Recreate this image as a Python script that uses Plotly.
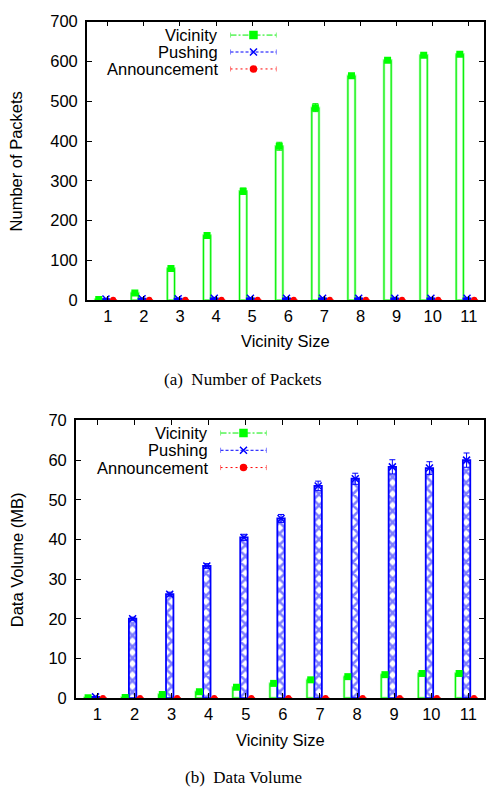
import numpy as np
import plotly.graph_objects as go

# Vicinity sizes on the x axis
vicinity_size = [1, 2, 3, 4, 5, 6, 7, 8, 9, 10, 11]

# (a) Number of packets
pkt_vicinity = [2, 18, 80, 163, 274, 387, 484, 564, 603, 616, 618]
pkt_vicinity_err = [1, 4, 4, 5, 8, 10, 10, 6, 5, 4, 4]
pkt_pushing = [3, 4, 4, 5, 5, 5, 5, 5, 5, 5, 5]
pkt_pushing_err = [1, 1, 1, 1, 1, 1, 1, 1, 1, 1, 1]
pkt_announce = [1, 1, 1, 1, 1, 1, 1, 1, 1, 1, 1]

# (b) Data volume in MB
vol_vicinity = [0.1, 0.15, 0.9, 1.6, 2.7, 3.7, 4.6, 5.4, 5.9, 6.2, 6.2]
vol_vicinity_err = [0.05, 0.05, 0.1, 0.15, 0.2, 0.3, 0.3, 0.3, 0.3, 0.3, 0.3]
vol_pushing = [0.3, 20.0, 26.2, 33.3, 40.5, 45.3, 53.5, 55.3, 58.3, 58.0, 60.0]
vol_pushing_err = [0.1, 0.4, 0.5, 0.6, 0.8, 1.0, 1.2, 1.4, 1.8, 1.6, 1.8]
vol_announce = [0.02, 0.02, 0.02, 0.02, 0.02, 0.02, 0.02, 0.02, 0.02, 0.02, 0.02]

series_names = ["Vicinity", "Pushing", "Announcement"]

GREEN = "#00ee00"
LGREEN = "#99ff99"
BLUE = "#0000ff"
RED = "#ff0000"
W, H = 486, 796

x = np.array(vicinity_size, dtype=float)
OFF_V, OFF_P, OFF_A = -0.25, -0.05, 0.15
BW = 0.2

fig = go.Figure()


def add_panel(xa, ya, vic, vic_err, push, push_err, ann):
    # Vicinity: open boxes with a soft halo
    fig.add_bar(x=x + OFF_V, y=vic, width=BW, xaxis=xa, yaxis=ya,
                marker=dict(color="rgba(0,0,0,0)", line=dict(color=LGREEN, width=2.5)),
                showlegend=False, hoverinfo="skip")
    fig.add_bar(x=x + OFF_V, y=vic, width=BW, xaxis=xa, yaxis=ya,
                marker=dict(color="rgba(0,0,0,0)", line=dict(color=GREEN, width=1)),
                showlegend=False, hoverinfo="skip")
    # Pushing: crosshatched boxes
    fig.add_bar(x=x + OFF_P, y=push, width=BW, xaxis=xa, yaxis=ya,
                marker=dict(color="white", line=dict(color=BLUE, width=1.8),
                            pattern=dict(shape="x", fgcolor=BLUE, bgcolor="white",
                                         size=8, solidity=0.55)),
                showlegend=False, hoverinfo="skip")
    # Announcement: (nearly flat) boxes
    fig.add_bar(x=x + OFF_A, y=ann, width=BW, xaxis=xa, yaxis=ya,
                marker=dict(color="rgba(0,0,0,0)", line=dict(color=RED, width=1)),
                showlegend=False, hoverinfo="skip")
    # Points with error bars
    fig.add_scatter(x=x + OFF_V, y=vic, mode="markers", xaxis=xa, yaxis=ya,
                    marker=dict(symbol="square", size=7, color="#00ff00"),
                    error_y=dict(type="data", array=vic_err, color=GREEN,
                                 thickness=1, width=3),
                    showlegend=False)
    fig.add_scatter(x=x + OFF_P, y=push, mode="markers", xaxis=xa, yaxis=ya,
                    marker=dict(symbol="x-thin", size=7, color=BLUE,
                                line=dict(color=BLUE, width=1.5)),
                    error_y=dict(type="data", array=push_err, color=BLUE,
                                 thickness=1, width=3),
                    showlegend=False)
    fig.add_scatter(x=x + OFF_A, y=ann, mode="markers", xaxis=xa, yaxis=ya,
                    marker=dict(symbol="circle", size=6, color=RED),
                    showlegend=False)


add_panel("x", "y", pkt_vicinity, pkt_vicinity_err, pkt_pushing, pkt_pushing_err, pkt_announce)
add_panel("x2", "y2", vol_vicinity, vol_vicinity_err, vol_pushing, vol_pushing_err, vol_announce)

# Key samples, drawn on small overlay axes (range 0..1)
key_styles = [
    dict(color=GREEN, dash="6px,2px,2px,2px", symbol="square", msize=7, mcolor="#00ff00"),
    dict(color=BLUE, dash="3px,2px", symbol="x-thin", msize=7, mcolor=BLUE),
    dict(color=RED, dash="2px,3px", symbol="circle", msize=6, mcolor=RED),
]
key_rows = [2.5, 1.5, 0.5]
for xa, ya in (("x3", "y3"), ("x4", "y4")):
    for st, ry in zip(key_styles, key_rows):
        fig.add_scatter(x=[0, 1], y=[ry, ry], mode="lines", xaxis=xa, yaxis=ya,
                        line=dict(color=st["color"], dash=st["dash"], width=1),
                        showlegend=False, hoverinfo="skip")
        fig.add_scatter(x=[0, 0, None, 1, 1], y=[ry - 0.15, ry + 0.15, None, ry - 0.15, ry + 0.15],
                        mode="lines", xaxis=xa, yaxis=ya,
                        line=dict(color=st["color"], width=1),
                        showlegend=False, hoverinfo="skip")
        fig.add_scatter(x=[0.5], y=[ry], mode="markers", xaxis=xa, yaxis=ya,
                        marker=dict(symbol=st["symbol"], size=st["msize"], color=st["mcolor"],
                                    line=dict(color=st["mcolor"], width=1.5)),
                        showlegend=False, hoverinfo="skip")

FONT = "Liberation Sans, Arial, sans-serif"
SERIF = "Liberation Serif, Times New Roman, serif"
axis_common = dict(showline=True, linecolor="black", linewidth=1.5, mirror="allticks",
                   ticks="inside", ticklen=5, tickwidth=1, tickcolor="black",
                   showgrid=False, zeroline=False,
                   tickfont=dict(family=FONT, size=16.5, color="black"))


def px_x(a, b):
    return [a / W, b / W]


def px_y(top, bottom):
    return [1 - bottom / H, 1 - top / H]


fig.update_layout(
    width=W, height=H, margin=dict(l=0, r=0, t=0, b=0),
    paper_bgcolor="white", plot_bgcolor="rgba(0,0,0,0)",
    barmode="overlay", showlegend=False,
    xaxis=dict(axis_common, domain=px_x(87, 485), range=[0.42, 11.42],
               tickvals=vicinity_size, ticklabelstandoff=0, anchor="y"),
    yaxis=dict(axis_common, domain=px_y(13, 298), range=[0, 700], dtick=100,
               ticklabelstandoff=4, anchor="x"),
    xaxis2=dict(axis_common, domain=px_x(76, 485), range=[0.42, 11.42],
                tickvals=vicinity_size, ticklabelstandoff=0, anchor="y2"),
    yaxis2=dict(axis_common, domain=px_y(421, 705), range=[0, 70], dtick=10,
                ticklabelstandoff=4, anchor="x2"),
    xaxis3=dict(domain=px_x(231, 277), range=[0, 1], visible=False, anchor="y3"),
    yaxis3=dict(domain=px_y(18, 70), range=[0, 3], visible=False, anchor="x3"),
    xaxis4=dict(domain=px_x(221, 267), range=[0, 1], visible=False, anchor="y4"),
    yaxis4=dict(domain=px_y(425, 478), range=[0, 3], visible=False, anchor="x4"),
)

annotations = []
# Key labels
for top_px, right_px in ((18, 220), (425, 210)):
    row_h = (70 - 18) / 3 if top_px == 18 else (478 - 425) / 3
    for i, name in enumerate(series_names):
        cy = top_px + row_h * (i + 0.5)
        annotations.append(dict(text=name, x=right_px / W, y=1 - cy / H, xref="paper", yref="paper",
                                xanchor="right", yanchor="middle", showarrow=False,
                                font=dict(family=FONT, size=16.5, color="black")))
# Axis titles
annotations += [
    dict(text="Vicinity Size", x=286 / W, y=1 - 340 / H),
    dict(text="Number of Packets", x=17 / W, y=1 - 156 / H, textangle=-90),
    dict(text="Vicinity Size", x=281 / W, y=1 - 748 / H),
    dict(text="Data Volume (MB)", x=17 / W, y=1 - 563 / H, textangle=-90),
]
for a in annotations[-4:]:
    a.update(xref="paper", yref="paper", xanchor="center", yanchor="middle", showarrow=False,
             font=dict(family=FONT, size=16.5, color="black"))
# Captions
annotations += [
    dict(text="(a)  Number of Packets", x=244 / W, y=1 - 379 / H),
    dict(text="(b)  Data Volume", x=244 / W, y=1 - 786 / H),
]
for a in annotations[-2:]:
    a.update(xref="paper", yref="paper", xanchor="center", yanchor="middle", showarrow=False,
             font=dict(family=SERIF, size=17, color="black"))

fig.update_layout(annotations=annotations)
fig.write_html("out.html")
